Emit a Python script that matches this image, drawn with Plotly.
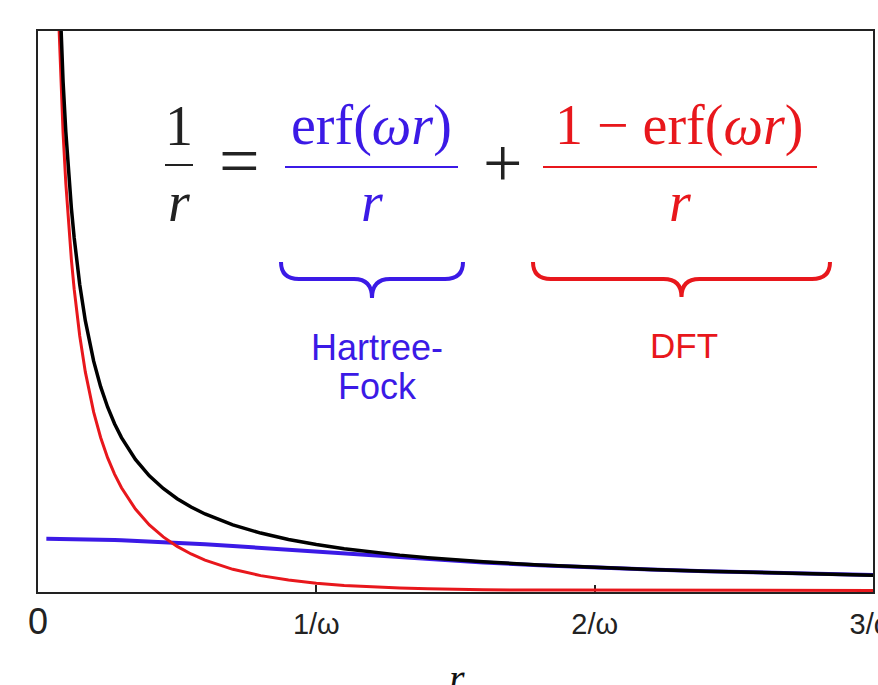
import plotly.graph_objects as go

# ---------------- data (units of 1/omega) ----------------
r_vals = [0.03, 0.05, 0.07, 0.08, 0.09, 0.1, 0.11, 0.12, 0.13, 0.14, 0.15, 0.17, 0.2,
          0.225, 0.25, 0.275, 0.3, 0.35, 0.4, 0.45, 0.5, 0.55, 0.6, 0.7, 0.8, 0.9, 1.0,
          1.1, 1.2, 1.3, 1.4, 1.5, 1.6, 1.8, 2.0, 2.2, 2.4, 2.6, 2.8, 3.0]

coulomb = [33.33, 20.0, 14.29, 12.5, 11.11, 10.0, 9.091, 8.333, 7.692, 7.143, 6.667, 5.882, 5.0,
           4.444, 4.0, 3.636, 3.333, 2.857, 2.5, 2.222, 2.0, 1.818, 1.667, 1.429, 1.25, 1.111, 1.0,
           0.909, 0.833, 0.769, 0.714, 0.667, 0.625, 0.556, 0.5, 0.455, 0.417, 0.385, 0.357, 0.333]

hf_part = [1.128, 1.1274, 1.1266, 1.126, 1.1253, 1.1246, 1.1238, 1.123, 1.1221, 1.1211, 1.12, 1.1176, 1.1135,
           1.1096, 1.1053, 1.1006, 1.0954, 1.0839, 1.071, 1.0566, 1.041, 1.0242, 1.0064, 0.9683, 0.9276, 0.8855, 0.8427,
           0.8002, 0.7586, 0.7185, 0.6802, 0.6441, 0.6102, 0.5495, 0.4977, 0.4537, 0.4164, 0.3845, 0.3571, 0.3333]

dft_part = [32.205, 18.873, 13.159, 11.374, 9.986, 8.875, 7.967, 7.21, 6.57, 6.022, 5.547, 4.765, 3.887,
            3.335, 2.895, 2.536, 2.238, 1.773, 1.429, 1.166, 0.959, 0.794, 0.66, 0.46, 0.322, 0.226, 0.1573,
            0.1089, 0.0747, 0.0508, 0.0341, 0.0226, 0.0148, 0.0061, 0.0023, 0.0008, 0.0003, 0.0001, 0.0, 0.0]

tick_vals = [0, 1, 2, 3]
tick_text = ["<span style='font-size:36px'>0</span>", "1/ω", "2/ω", "3/ω"]

# ---------------- layout helpers ----------------
W, H = 878, 685
L, R, T, B = 38, 873, 31, 592          # plot frame in page pixels

def px(x):
    return (x - L) / (R - L)

def py(y):
    return (B - y) / (B - T)

BLUE = "#3b1ae6"
RED = "#e8171c"
BLACK = "#000000"
FRAME = "#222222"
INK = "#222222"
SERIF = "Liberation Serif"
SANS = "Liberation Sans"

fig = go.Figure()
fig.add_trace(go.Scatter(x=r_vals, y=hf_part, mode="lines",
                         line=dict(color=BLUE, width=4), showlegend=False))
fig.add_trace(go.Scatter(x=r_vals, y=dft_part, mode="lines",
                         line=dict(color=RED, width=3), showlegend=False))
fig.add_trace(go.Scatter(x=r_vals, y=coulomb, mode="lines",
                         line=dict(color=BLACK, width=3.5), showlegend=False))

annotations = []

def text(s, x, y, color, size, family=SERIF, xanchor="center", yanchor="middle"):
    annotations.append(dict(text=s, x=px(x), y=py(y), xref="paper", yref="paper",
                            showarrow=False, xanchor=xanchor, yanchor=yanchor,
                            font=dict(family=family, size=size, color=color)))

shapes = []

def hbar(x0, x1, y, color, width=2):
    shapes.append(dict(type="line", xref="paper", yref="paper",
                       x0=px(x0), x1=px(x1), y0=py(y), y1=py(y),
                       line=dict(color=color, width=width)))

def brace(x0, x1, ytop, ymid, ytip, color, width=4):
    xc = (x0 + x1) / 2
    rr = 18
    pts = [
        ("M", [(x0, ytop)]),
        ("Q", [(x0, ymid), (x0 + rr, ymid)]),
        ("L", [(xc - rr, ymid)]),
        ("Q", [(xc, ymid), (xc, ytip)]),
        ("Q", [(xc, ymid), (xc + rr, ymid)]),
        ("L", [(x1 - rr, ymid)]),
        ("Q", [(x1, ymid), (x1, ytop)]),
    ]
    path = ""
    for cmd, plist in pts:
        path += cmd + " " + " ".join(f"{px(a):.5f},{py(b):.5f}" for a, b in plist) + " "
    shapes.append(dict(type="path", xref="paper", yref="paper", path=path.strip(),
                       line=dict(color=color, width=width)))

FS = 56
# 1/r
text("1", 179, 126, INK, FS)
hbar(165, 193, 165, INK)
text("<i>r</i>", 179, 202, INK, FS)
# =
text("=", 239, 161, INK, 72)
# erf(wr)/r
text("erf(<i>ωr</i>)", 371, 126, BLUE, FS)
hbar(285, 458, 167, BLUE)
text("<i>r</i>", 372, 202, BLUE, FS)
# +
text("+", 502, 163, INK, 70)
# (1-erf(wr))/r
text("1 − erf(<i>ωr</i>)", 679, 126, RED, FS)
hbar(543, 817, 167, RED)
text("<i>r</i>", 680, 202, RED, FS)

brace(281, 463, 262, 279, 298, BLUE)
brace(533, 830, 262, 279, 297, RED)

text("Hartree-", 377, 347, BLUE, 36, family=SANS)
text("Fock", 377, 386, BLUE, 36, family=SANS)
text("DFT", 684, 345, RED, 35, family=SANS)

# axis title r (partly cut off at the bottom, as in the reference)
text("<i>r</i>", 457, 654, "#111111", 40, yanchor="top")

fig.update_layout(
    width=W, height=H,
    margin=dict(l=L, r=W - R, t=T, b=H - B, pad=0),
    paper_bgcolor="white", plot_bgcolor="white",
    annotations=annotations, shapes=shapes,
    xaxis=dict(range=[0, 3], showline=True, linecolor=FRAME, linewidth=2, mirror=True,
               ticks="inside", ticklen=7, tickwidth=1.5, tickcolor=FRAME,
               tickvals=tick_vals, ticktext=tick_text,
               tickfont=dict(family=SANS, size=29, color=INK),
               showgrid=False, zeroline=False, layer="below traces", automargin=False,
               ticklabelstandoff=5, ticklabeloverflow="allow"),
    yaxis=dict(range=[-0.035, 12.2], showline=True, linecolor=FRAME, linewidth=2, mirror=True,
               showticklabels=False, ticks="", showgrid=False, zeroline=False,
               layer="below traces", automargin=False),
)

fig.write_html("out.html", config={"displayModeBar": False},
               post_script="document.body.style.margin='0px';document.body.style.overflow='hidden';")
